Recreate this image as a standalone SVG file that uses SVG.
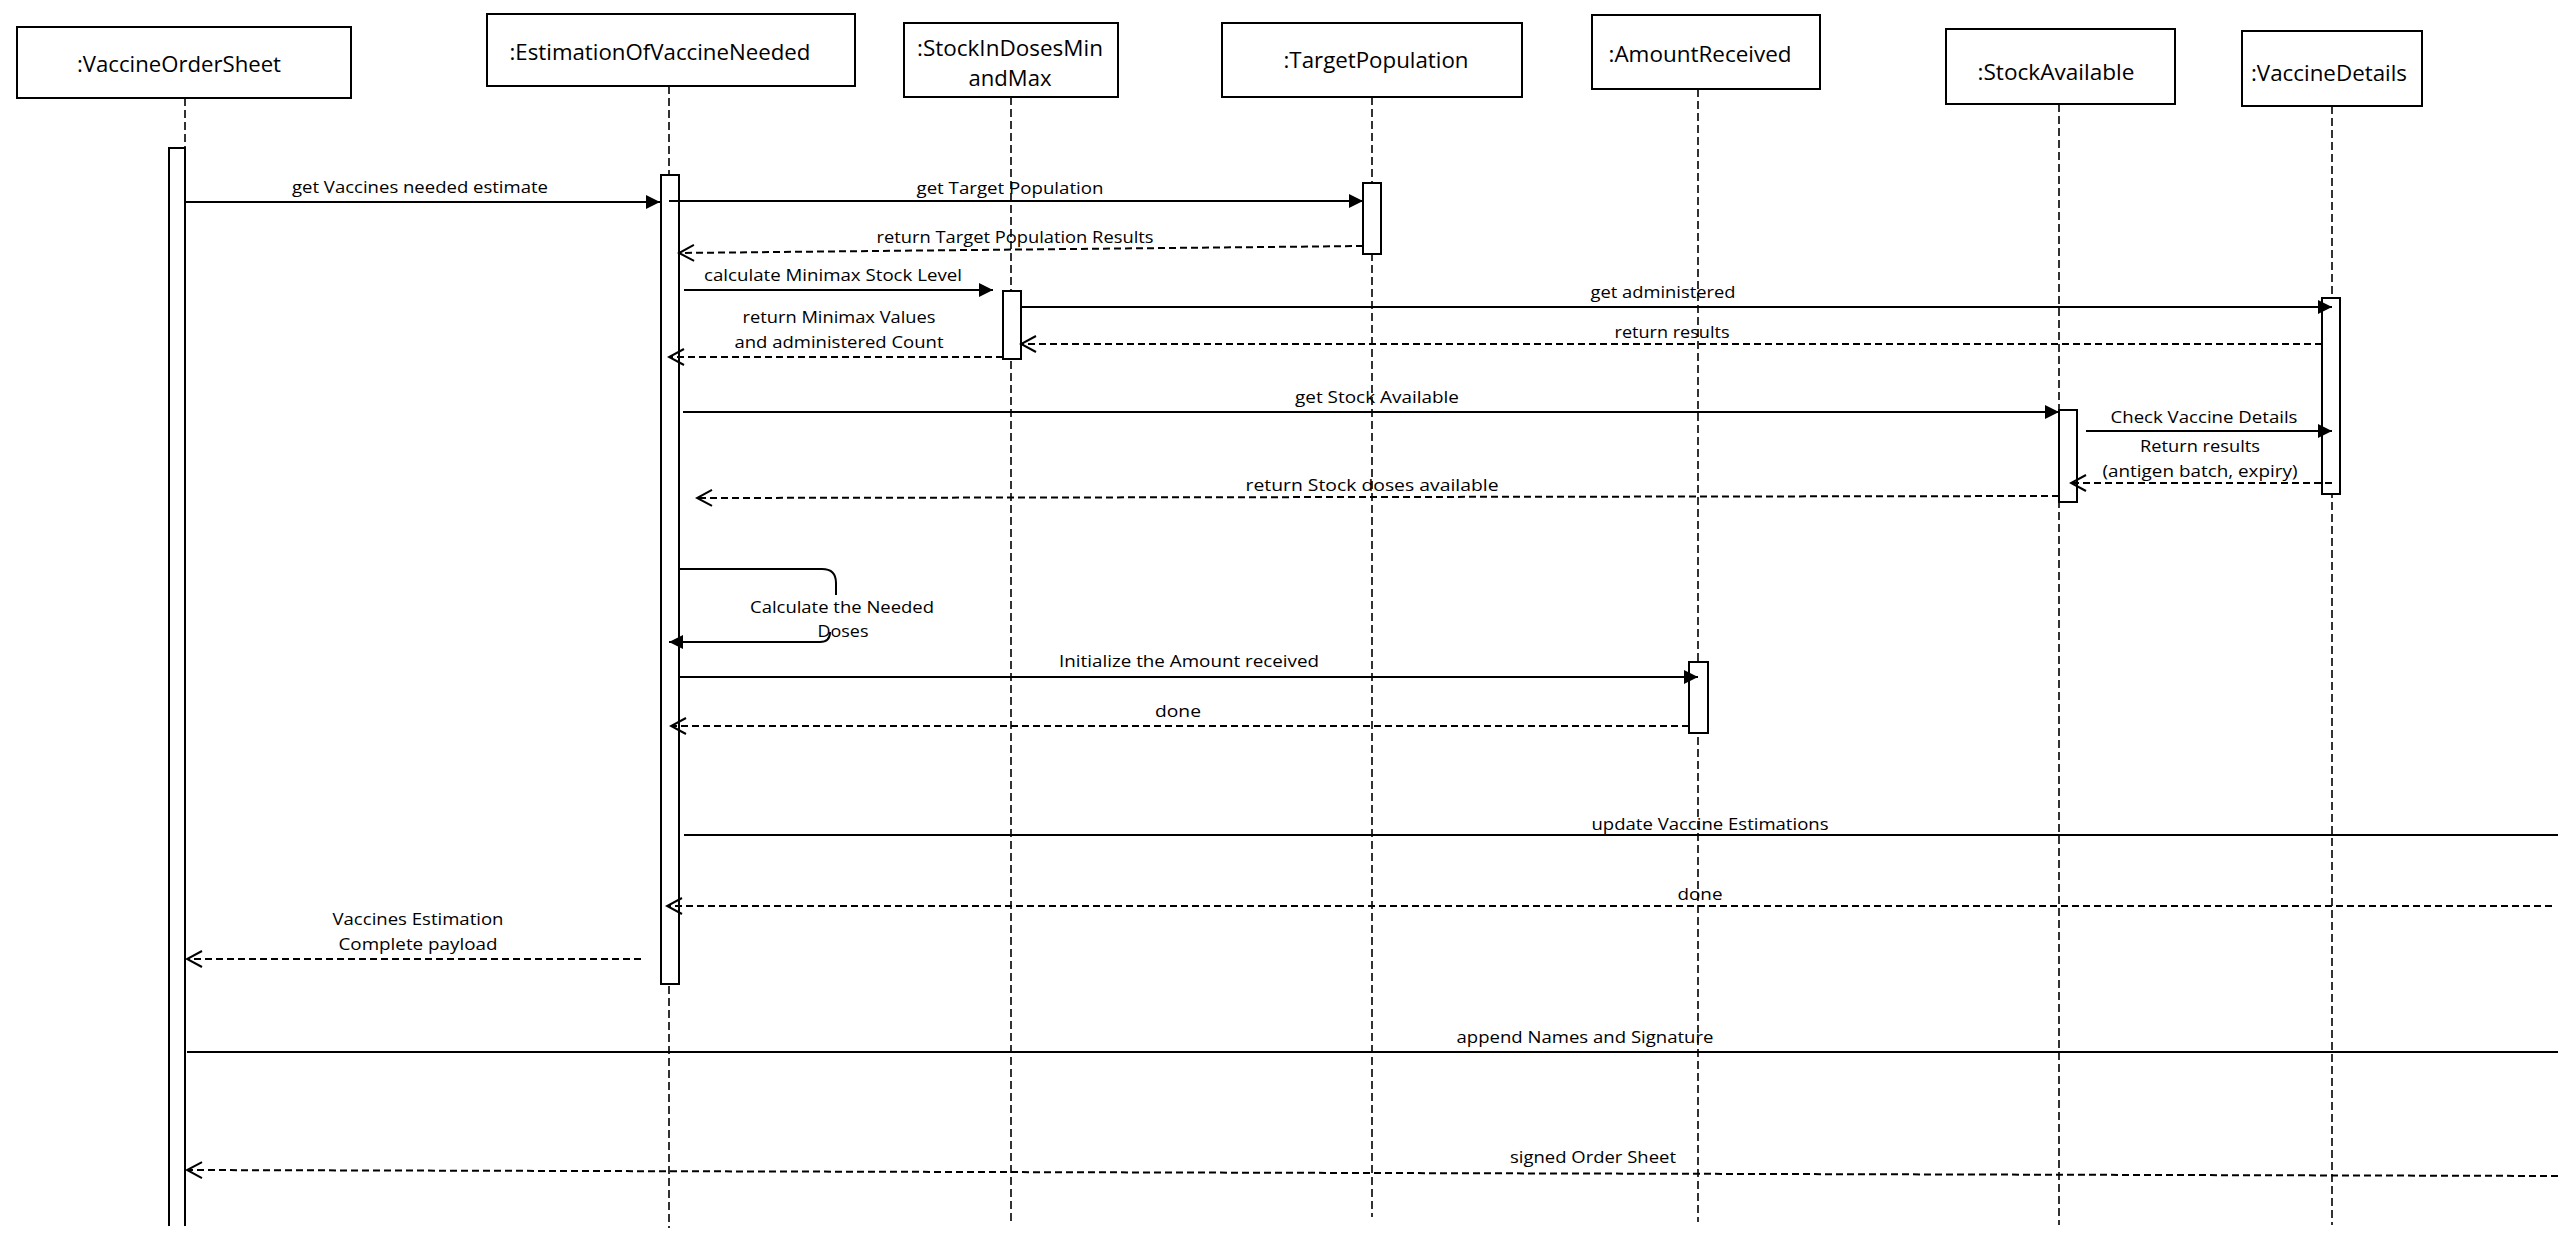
<svg xmlns="http://www.w3.org/2000/svg" width="2575" height="1242" viewBox="0 0 2575 1242">
<style>
  .box { fill: #fff; stroke: #000; stroke-width: 2; }
  .title { font-family: "Open Sans", "Liberation Sans", sans-serif; font-size: 22px; fill: #000; text-anchor: middle; }
  .lbl { font-family: "Open Sans", "Liberation Sans", sans-serif; font-size: 17px; fill: #000; text-anchor: middle; }
  .life { stroke: #000; stroke-width: 1.6; stroke-dasharray: 8 4; fill: none; }
  .act { fill: #fff; stroke: #000; stroke-width: 2; }
  .msg { stroke: #000; stroke-width: 2; fill: none; marker-end: url(#filled); }
  .plain { stroke: #000; stroke-width: 2; fill: none; }
  .ret { stroke: #000; stroke-width: 2; fill: none; stroke-dasharray: 7 4; marker-end: url(#open); }
</style>
<defs>
  <marker id="filled" markerUnits="userSpaceOnUse" markerWidth="16" markerHeight="16" refX="14" refY="7" orient="auto">
    <path d="M0,0 L14,7 L0,14 z" fill="#000"/>
  </marker>
  <marker id="open" markerUnits="userSpaceOnUse" markerWidth="18" markerHeight="20" refX="16" refY="9" orient="auto">
    <path d="M1,1 L16,9 L1,17" fill="none" stroke="#000" stroke-width="2"/>
  </marker>
</defs>
<rect width="2575" height="1242" fill="#fff"/>

<!-- lifelines (dashed) -->
<g id="lifelines">
  <line class="life" x1="185" y1="98" x2="185" y2="148"/>
  <line class="life" x1="669" y1="86" x2="669" y2="1228"/>
  <line class="life" x1="1011" y1="97" x2="1011" y2="1222"/>
  <line class="life" x1="1372" y1="97" x2="1372" y2="1217"/>
  <line class="life" x1="1698" y1="89" x2="1698" y2="1222"/>
  <line class="life" x1="2059" y1="104" x2="2059" y2="1225"/>
  <line class="life" x1="2332" y1="106" x2="2332" y2="1225"/>
</g>

<g id="n-VaccineOrderSheet">
  <rect class="box" x="17" y="27" width="334" height="71"/>
  <text class="title" x="179" y="72" textLength="204" lengthAdjust="spacingAndGlyphs">:VaccineOrderSheet</text>
  <path d="M169,1226 V148 H185 V1226" fill="#fff" stroke="#000" stroke-width="2"/>
</g>
<g id="n-EstimationOfVaccineNeeded">
  <rect class="box" x="487" y="14" width="368" height="72"/>
  <text class="title" x="660" y="60" textLength="301" lengthAdjust="spacingAndGlyphs">:EstimationOfVaccineNeeded</text>
  <rect class="act" x="661" y="175" width="18" height="809"/>
</g>
<g id="n-StockInDosesMinandMax">
  <rect class="box" x="904" y="23" width="214" height="74"/>
  <text class="title" x="1010" y="56" textLength="186" lengthAdjust="spacingAndGlyphs">:StockInDosesMin</text>
  <text class="title" x="1010" y="86" textLength="83" lengthAdjust="spacingAndGlyphs">andMax</text>
  <rect class="act" x="1003" y="291" width="18" height="68"/>
</g>
<g id="n-TargetPopulation">
  <rect class="box" x="1222" y="23" width="300" height="74"/>
  <text class="title" x="1376" y="68" textLength="185" lengthAdjust="spacingAndGlyphs">:TargetPopulation</text>
  <rect class="act" x="1363" y="183" width="18" height="71"/>
</g>
<g id="n-AmountReceived">
  <rect class="box" x="1592" y="15" width="228" height="74"/>
  <text class="title" x="1700" y="62" textLength="183" lengthAdjust="spacingAndGlyphs">:AmountReceived</text>
  <rect class="act" x="1689" y="662" width="19" height="71"/>
</g>
<g id="n-StockAvailable">
  <rect class="box" x="1946" y="29" width="229" height="75"/>
  <text class="title" x="2056" y="80" textLength="157" lengthAdjust="spacingAndGlyphs">:StockAvailable</text>
  <rect class="act" x="2059" y="410" width="18" height="92"/>
</g>
<g id="n-VaccineDetails">
  <rect class="box" x="2242" y="31" width="180" height="75"/>
  <text class="title" x="2329" y="81" textLength="156" lengthAdjust="spacingAndGlyphs">:VaccineDetails</text>
  <rect class="act" x="2322" y="298" width="18" height="196"/>
</g>

<g id="connectors">
  <line class="msg" x1="185" y1="202" x2="660" y2="202"/>
  <text class="lbl" x="420" y="193" textLength="256" lengthAdjust="spacingAndGlyphs">get Vaccines needed estimate</text>

  <line class="msg" x1="669" y1="201" x2="1363" y2="201"/>
  <text class="lbl" x="1010" y="194" textLength="187" lengthAdjust="spacingAndGlyphs">get Target Population</text>

  <line class="ret" x1="1363" y1="246" x2="679" y2="253"/>
  <text class="lbl" x="1015" y="243" textLength="277" lengthAdjust="spacingAndGlyphs">return Target Population Results</text>

  <line class="msg" x1="684" y1="290" x2="993" y2="290"/>
  <text class="lbl" x="833" y="281" textLength="258" lengthAdjust="spacingAndGlyphs">calculate Minimax Stock Level</text>

  <line class="msg" x1="1021" y1="307" x2="2332" y2="307"/>
  <text class="lbl" x="1663" y="298" textLength="145" lengthAdjust="spacingAndGlyphs">get administered</text>

  <line class="ret" x1="2322" y1="344" x2="1021" y2="344"/>
  <text class="lbl" x="1672" y="338" textLength="115" lengthAdjust="spacingAndGlyphs">return results</text>

  <line class="ret" x1="1003" y1="357" x2="669" y2="357"/>
  <text class="lbl" x="839" y="323" textLength="193" lengthAdjust="spacingAndGlyphs">return Minimax Values</text>
  <text class="lbl" x="839" y="348" textLength="209" lengthAdjust="spacingAndGlyphs">and administered Count</text>

  <line class="msg" x1="683" y1="412" x2="2059" y2="412"/>
  <text class="lbl" x="1377" y="403" textLength="164" lengthAdjust="spacingAndGlyphs">get Stock Available</text>

  <line class="msg" x1="2086" y1="431" x2="2332" y2="431"/>
  <text class="lbl" x="2204" y="423" textLength="187" lengthAdjust="spacingAndGlyphs">Check Vaccine Details</text>

  <line class="ret" x1="2332" y1="483" x2="2071" y2="483"/>
  <text class="lbl" x="2200" y="452" textLength="120" lengthAdjust="spacingAndGlyphs">Return results</text>
  <text class="lbl" x="2200" y="477" textLength="195" lengthAdjust="spacingAndGlyphs">(antigen batch, expiry)</text>

  <line class="ret" x1="2059" y1="496" x2="697" y2="498"/>
  <text class="lbl" x="1372" y="491" textLength="253" lengthAdjust="spacingAndGlyphs">return Stock doses available</text>

  <path class="plain" d="M679,569 H822 Q836,569 836,583 V595"/>
  <path class="msg" d="M830,632 Q830,642 820,642 H669"/>
  <text class="lbl" x="842" y="613" textLength="184" lengthAdjust="spacingAndGlyphs">Calculate the Needed</text>
  <text class="lbl" x="843" y="637" textLength="51" lengthAdjust="spacingAndGlyphs">Doses</text>

  <line class="msg" x1="679" y1="677" x2="1698" y2="677"/>
  <text class="lbl" x="1189" y="667" textLength="260" lengthAdjust="spacingAndGlyphs">Initialize the Amount received</text>

  <line class="ret" x1="1689" y1="726" x2="671" y2="726"/>
  <text class="lbl" x="1178" y="717" textLength="46" lengthAdjust="spacingAndGlyphs">done</text>

  <line class="plain" x1="684" y1="835" x2="2558" y2="835"/>
  <text class="lbl" x="1710" y="830" textLength="237" lengthAdjust="spacingAndGlyphs">update Vaccine Estimations</text>

  <line class="ret" x1="2552" y1="906" x2="667" y2="906"/>
  <text class="lbl" x="1700" y="900" textLength="45" lengthAdjust="spacingAndGlyphs">done</text>

  <line class="ret" x1="641" y1="959" x2="187" y2="959"/>
  <text class="lbl" x="418" y="925" textLength="171" lengthAdjust="spacingAndGlyphs">Vaccines Estimation</text>
  <text class="lbl" x="418" y="950" textLength="159" lengthAdjust="spacingAndGlyphs">Complete payload</text>

  <line class="plain" x1="187" y1="1052" x2="2558" y2="1052"/>
  <text class="lbl" x="1585" y="1043" textLength="257" lengthAdjust="spacingAndGlyphs">append Names and Signature</text>

  <line class="ret" x1="2558" y1="1176" x2="187" y2="1170"/>
  <text class="lbl" x="1593" y="1163" textLength="166" lengthAdjust="spacingAndGlyphs">signed Order Sheet</text>
</g>
</svg>
